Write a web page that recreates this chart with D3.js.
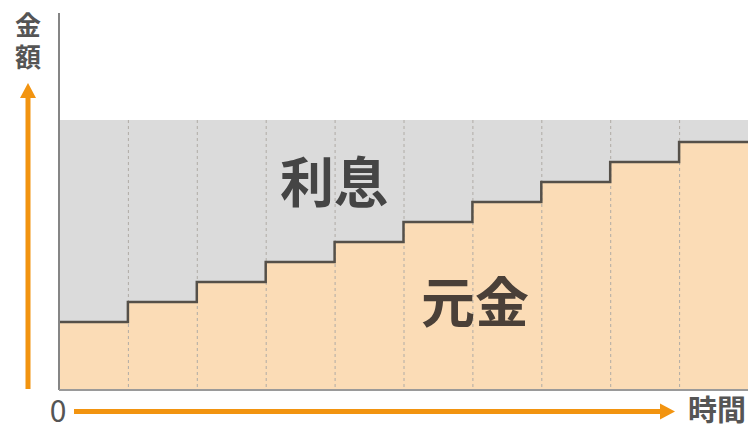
<!DOCTYPE html>
<html>
<head>
<meta charset="utf-8">
<script src="https://cdn.jsdelivr.net/npm/d3@7"></script>
<style>
  body { margin: 0; background: #fff; }
  svg { display: block; }
  text { font-family: "Noto Sans CJK JP", "Noto Sans", sans-serif; font-weight: bold; }
</style>
</head>
<body>
<svg></svg>
<script>
let width = 750;
let height = 429;

// periods and values (arbitrary units)
let periods = [0, 1, 2, 3, 4, 5, 6, 7, 8, 9];
let principal = [34, 44, 54, 64, 74, 84, 94, 104, 114, 124];
let total = 135;
let yLabel = ["金", "額"];
let xLabel = "時間";
let originLabel = "0";

let svg = d3.select("svg")
  .attr("width", width)
  .attr("height", height);

let x = d3.scaleLinear().domain([0, periods.length]).range([59, 748]);
let y = d3.scaleLinear().domain([0, total]).range([390, 120]);

// step points, last value repeated to the end
let pts = periods.map((p, i) => ({ t: p, v: principal[i] }));
pts.push({ t: periods.length, v: principal[principal.length - 1] });

// interest (gray) band
svg.append("rect")
  .attr("x", x(0))
  .attr("y", y(total))
  .attr("width", x(periods.length) - x(0))
  .attr("height", y(0) - y(total))
  .style("fill", "#dbdbdb");

// principal (orange) area
let area = d3.area()
  .curve(d3.curveStepAfter)
  .x(d => x(d.t))
  .y0(y(0))
  .y1(d => y(d.v));

svg.append("path")
  .datum(pts)
  .attr("d", area)
  .style("fill", "#fbdcb6");

// dotted period lines
svg.selectAll(".grid")
  .data(periods.slice(1))
  .enter()
  .append("line")
    .attr("class", "grid")
    .attr("x1", d => x(d) + 0.5)
    .attr("x2", d => x(d) + 0.5)
    .attr("y1", y(total))
    .attr("y2", y(0))
    .style("stroke", "#b0aca6")
    .style("stroke-width", 1)
    .style("stroke-dasharray", "3,3");

// step line
let line = d3.line()
  .curve(d3.curveStepAfter)
  .x(d => x(d.t))
  .y(d => y(d.v));

svg.append("path")
  .datum(pts)
  .attr("d", line)
  .style("fill", "none")
  .style("stroke", "#555049")
  .style("stroke-width", 2.5);

// axes lines
svg.append("line")
  .attr("x1", x(0)).attr("x2", x(0))
  .attr("y1", 13).attr("y2", y(0))
  .style("stroke", "#858585")
  .style("stroke-width", 2);

svg.append("line")
  .attr("x1", x(0)).attr("x2", x(periods.length))
  .attr("y1", y(0)).attr("y2", y(0))
  .style("stroke", "#9a9a9a")
  .style("stroke-width", 2);

// orange arrows
let orange = "#f29410";

svg.append("line")
  .attr("x1", 28).attr("x2", 28)
  .attr("y1", 389).attr("y2", 96)
  .style("stroke", orange)
  .style("stroke-width", 5);

svg.append("path")
  .attr("d", "M20,98 L28,83 L36,98 Z")
  .style("fill", orange);

svg.append("line")
  .attr("x1", 74).attr("x2", 662)
  .attr("y1", 411.5).attr("y2", 411.5)
  .style("stroke", orange)
  .style("stroke-width", 5);

svg.append("path")
  .attr("d", "M660,403.5 L675,411.5 L660,419.5 Z")
  .style("fill", orange);

// labels
svg.selectAll(".ylab")
  .data(yLabel)
  .enter()
  .append("text")
    .attr("class", "ylab")
    .attr("x", 28)
    .attr("y", (d, i) => 35 + i * 32)
    .attr("text-anchor", "middle")
    .attr("font-size", "26px")
    .style("fill", "#555")
    .text(d => d);

svg.append("text")
  .attr("x", 58)
  .attr("y", 422)
  .attr("text-anchor", "middle")
  .attr("font-size", "30px")
  .style("font-weight", "normal")
  .style("fill", "#555")
  .text(originLabel);

svg.append("text")
  .attr("x", 717)
  .attr("y", 421)
  .attr("text-anchor", "middle")
  .attr("font-size", "29px")
  .style("fill", "#555")
  .text(xLabel);

svg.append("text")
  .attr("x", 334)
  .attr("y", 203)
  .attr("text-anchor", "middle")
  .attr("font-size", "54px")
  .style("fill", "#454545")
  .text("利息");

svg.append("text")
  .attr("x", 475)
  .attr("y", 323)
  .attr("text-anchor", "middle")
  .attr("font-size", "54px")
  .style("fill", "#4a4038")
  .text("元金");
</script>
</body>
</html>
